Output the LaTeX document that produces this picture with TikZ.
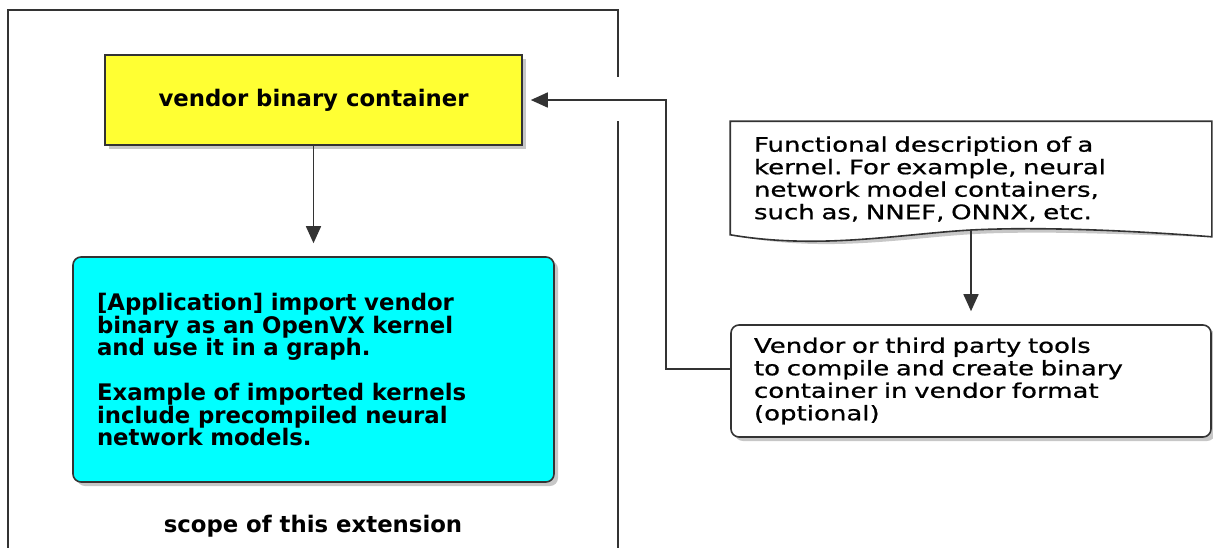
\documentclass[tikz,border=0pt]{standalone}
\usepackage{fontspec}
\setmainfont{DejaVu Sans}
\newfontfamily\widereg{DejaVu Sans}[FakeStretch=1.3, FakeBold=0.8]
\usetikzlibrary{arrows.meta,shadows,positioning}
\definecolor{lineclr}{HTML}{333333}
\definecolor{ylwfill}{HTML}{FFFF33}
\definecolor{appfill}{HTML}{00FFFF}
\frenchspacing

\tikzset{
  txt/.style={font=\widereg\fontsize{20}{22.5}\selectfont},
  boldtxt/.style={font=\fontsize{22.8}{22.5}\selectfont\bfseries},
  shade/.style={drop shadow={shadow xshift=4pt, shadow yshift=-4pt, fill=black, opacity=0.22}},
  ylwbox/.style={draw=lineclr, fill=ylwfill, shade, boldtxt, minimum width=417pt, minimum height=90pt},
  appbox/.style={draw=lineclr, fill=appfill, shade, boldtxt, rounded corners=8pt, text width=433pt, align=left, minimum height=225pt, inner xsep=24pt},
  toolbox/.style={draw=lineclr, fill=white, shade, txt, rounded corners=8pt, text width=434pt, align=left, minimum height=112pt, inner xsep=23pt},
  descbox/.style={txt, text width=434pt, align=left, minimum height=114pt, inner xsep=23pt},
}

\begin{document}
\begin{tikzpicture}[x=1pt, y=-1pt, line width=1.6pt, >={Triangle[length=17pt,width=15pt]}]
  \useasboundingbox (0,0) rectangle (1213,547);

  % scope frame, open where the arrow comes in
  \draw[lineclr] (8,560) -- (8,10) -- (618,10) -- (618,77);
  \draw[lineclr] (618,121) -- (618,560);

  \node[ylwbox] (ylw) at (313.5,100) {vendor binary container};
  \node[appbox] (app) at (313.5,369.5) {[Application] import vendor\\
    binary as an OpenVX kernel\\
    and use it in a graph.\\[22.5pt]
    Example of imported kernels\\
    include precompiled neural\\
    network models.};
  \node[boldtxt] (scope) at (313,526) {scope of this extension};

  % document shape with wavy bottom
  \node[descbox] (desc) at (971,179) {};
  \fill[black, opacity=0.22, xshift=4pt, yshift=-4pt] (desc.north west) -- (desc.north east) -- (desc.south east)
    .. controls (1150,232) and (1050,226) .. (971,230)
    .. controls (900,234) and (820,250) .. ([yshift=2pt]desc.south west) -- cycle;
  \draw[lineclr, fill=white] (desc.north west) -- (desc.north east) -- (desc.south east)
    .. controls (1150,232) and (1050,226) .. (971,230)
    .. controls (900,234) and (820,250) .. ([yshift=2pt]desc.south west) -- cycle;
  \node[descbox] at (desc.center) {Functional description of a\\
    kernel. For example, neural\\
    network model containers,\\
    such as, NNEF, ONNX, etc.};

  \node[toolbox] (tool) at (971,381) {Vendor or third party tools\\
    to compile and create binary\\
    container in vendor format\\
    (optional)};

  \path[->]
  (ylw) edge[lineclr, shorten >=13pt] (app)
  ([yshift=6pt]desc.south) edge[lineclr, shorten >=13pt] (tool)
  ;
  \draw[->, lineclr, shorten >=8pt] ([yshift=12pt]tool.west) -- ++(-64,0) |- (ylw.east);
\end{tikzpicture}
\end{document}
